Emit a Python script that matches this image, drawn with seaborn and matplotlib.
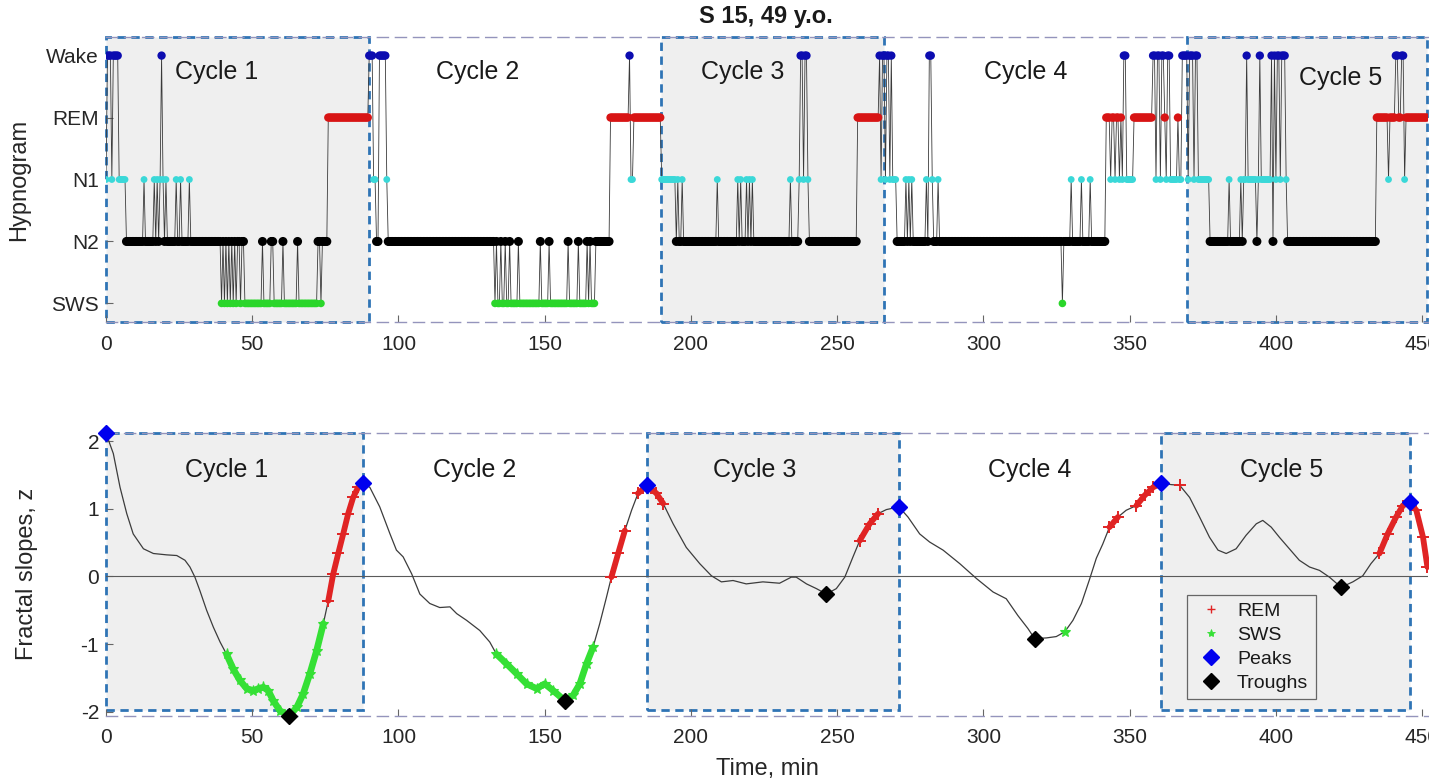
import numpy as np
import pandas as pd
import matplotlib
matplotlib.use("Agg")
import matplotlib.pyplot as plt
import seaborn as sns
from matplotlib.patches import Rectangle
from matplotlib.lines import Line2D

# ---------------- data ----------------
STAGE_LEVEL = {"S": 1, "N2": 2, "N1": 3, "R": 4, "W": 5}
Y_TICK_LABELS = ["SWS", "N2", "N1", "REM", "Wake"]

# hypnogram as runs: start minute of each run and its stage
HYP_START = [0.0, 0.5, 2.0, 2.5, 4.5, 7.0, 13.0, 13.5, 16.5, 17.0, 17.5, 18.0, 18.5, 19.0, 19.5,
             20.0, 20.5, 21.0, 24.0, 24.5, 25.5, 26.0, 28.5, 29.0, 39.5, 40.0, 40.5, 41.0, 41.5,
             42.0, 42.5, 43.0, 43.5, 44.0, 44.5, 45.0, 46.0, 46.5, 47.5, 53.5, 54.0, 56.5, 57.5,
             60.5, 61.0, 65.5, 66.0, 72.5, 73.5, 74.0, 76.0, 90.0, 91.5, 92.5, 93.5, 96.0, 96.5,
             133.0, 133.5, 134.0, 135.0, 135.5, 136.5, 137.0, 138.0, 138.5, 141.0, 141.5, 148.5,
             149.0, 151.5, 152.0, 158.0, 158.5, 161.5, 162.0, 164.5, 165.0, 165.5, 166.0, 167.5,
             172.5, 179.0, 179.5, 180.5, 190.0, 195.0, 195.5, 196.0, 197.0, 197.5, 209.0, 209.5,
             216.0, 216.5, 217.0, 217.5, 219.0, 219.5, 220.0, 220.5, 221.0, 221.5, 234.0, 234.5,
             237.0, 237.5, 238.5, 239.0, 240.0, 240.5, 257.0, 264.5, 265.0, 265.5, 266.5, 267.0,
             268.0, 268.5, 269.0, 270.5, 273.5, 274.0, 274.5, 275.0, 275.5, 276.0, 280.5, 281.0,
             281.5, 282.5, 283.0, 284.5, 285.0, 327.0, 327.5, 330.0, 330.5, 333.5, 334.0, 336.5,
             337.0, 342.0, 343.5, 344.0, 345.0, 345.5, 346.5, 347.0, 347.5, 348.0, 349.0, 351.5,
             358.0, 359.0, 359.5, 360.5, 361.0, 362.0, 362.5, 363.0, 364.0, 366.5, 367.0, 368.0,
             370.0, 370.5, 372.0, 372.5, 373.5, 377.5, 384.0, 384.5, 388.0, 388.5, 389.0, 390.0,
             390.5, 393.5, 394.0, 394.5, 395.0, 398.5, 399.0, 399.5, 400.0, 400.5, 401.5, 402.0,
             403.5, 404.0, 434.5, 438.5, 439.0, 441.0, 442.0, 443.0, 444.0, 444.5]
HYP_STAGE = ["N1", "W", "N1", "W", "N1", "N2", "N1", "N2", "N1", "N2", "N1", "N2", "N1", "W", "N1",
             "N2", "N1", "N2", "N1", "N2", "N1", "N2", "N1", "N2", "S", "N2", "S", "N2", "S",
             "N2", "S", "N2", "S", "N2", "S", "N2", "S", "N2", "S", "N2", "S", "N2", "S",
             "N2", "S", "N2", "S", "N2", "S", "N2", "R", "W", "N1", "N2", "W", "N1", "N2",
             "S", "N2", "S", "N2", "S", "N2", "S", "N2", "S", "N2", "S", "N2",
             "S", "N2", "S", "N2", "S", "N2", "S", "N2", "S", "N2", "S", "N2",
             "R", "W", "N1", "R", "N1", "N2", "N1", "N2", "N1", "N2", "N1", "N2",
             "N1", "N2", "N1", "N2", "N1", "N2", "N1", "N2", "N1", "N2", "N1", "N2",
             "N1", "W", "N1", "W", "N1", "N2", "R", "W", "N1", "W", "N1", "W",
             "N1", "W", "N1", "N2", "N1", "N2", "N1", "N2", "N1", "N2", "N1", "N2",
             "W", "N1", "N2", "N1", "N2", "S", "N2", "N1", "N2", "N1", "N2", "N1",
             "N2", "R", "N1", "R", "N1", "R", "N1", "R", "N1", "W", "N1", "R",
             "W", "N1", "W", "N1", "W", "R", "N1", "W", "N1", "R", "N1", "W",
             "N1", "W", "N1", "W", "N1", "N2", "N1", "N2", "N1", "N2", "N1", "W",
             "N1", "N2", "N1", "W", "N1", "W", "N2", "W", "N1", "W", "N1", "W",
             "N1", "N2", "R", "N1", "R", "W", "R", "W", "N1", "R"]
HYP_END = 452.0
EPOCH_MIN = 0.5

TOP_CYCLE_START = [0.0, 89.9, 189.6, 266.0, 369.6]
TOP_CYCLE_END = [89.9, 189.6, 266.0, 369.6, 451.6]
TOP_LABEL_T = [37.8, 127.0, 217.8, 314.6, 422.0]
TOP_LABEL_Y = [4.74, 4.74, 4.74, 4.74, 4.64]

# fractal slope trace (z)
FS_T = [0, 2.5, 4.8, 7.1, 9.3, 12.8, 16.2, 20.7, 24.2, 27.0, 28.7, 30.4, 32.1, 34.4, 36.7, 39.0,
        41.2, 43.5, 45.8, 48.1, 50.4, 52.1, 53.8, 55.5, 57.2, 59.5, 62.7, 65.2, 67.4, 69.7, 72.0,
        74.3, 76.0, 77.7, 79.4, 81.1, 82.8, 84.5, 86.2, 87.9, 90.2, 93.6, 97.1, 99.3, 101.6,
        104.5, 107.3, 110.7, 114.1, 117.6, 119.9, 123.3, 127.8, 131.2, 133.5, 136.9, 140.4,
        143.8, 147.2, 150.0, 152.9, 156.9, 159.7, 162.0, 164.3, 166.5, 168.8, 171.1, 172.8,
        175.1, 177.4, 179.7, 181.9, 185.0, 188.2, 190.5, 193.9, 198.4, 203.0, 207.0, 210.4,
        214.4, 218.9, 224.6, 230.3, 234.3, 236.0, 239.5, 242.9, 246.3, 249.7, 252.6, 255.4,
        257.7, 261.1, 264.0, 266.8, 271.1, 274.2, 278.2, 281.6, 286.2, 291.9, 297.6, 303.3,
        307.8, 311.8, 315.2, 317.5, 321.5, 324.9, 327.8, 330.6, 333.5, 336.3, 338.6, 340.8,
        343.1, 346.0, 348.8, 352.3, 355.1, 358.0, 360.8, 364.2, 367.1, 370.5, 373.9, 377.3,
        380.2, 383.0, 386.4, 389.8, 393.3, 395.5, 398.4, 401.2, 404.6, 408.0, 411.5, 414.9,
        418.3, 422.3, 426.3, 429.7, 432.5, 435.4, 438.2, 441.1, 443.4, 445.7, 448.0, 450.3,
        451.8]
FS_V = [2.12, 1.82, 1.32, 0.93, 0.63, 0.41, 0.34, 0.32, 0.31, 0.24, 0.14, -0.01, -0.21, -0.50,
        -0.75, -0.97, -1.15, -1.37, -1.54, -1.66, -1.69, -1.66, -1.64, -1.69, -1.84, -1.99, -2.06,
        -1.94, -1.74, -1.44, -1.10, -0.70, -0.36, 0.04, 0.34, 0.63, 0.93, 1.17, 1.32, 1.38, 1.32,
        1.03, 0.63, 0.39, 0.29, 0.04, -0.26, -0.40, -0.46, -0.45, -0.55, -0.65, -0.80, -0.97,
        -1.15, -1.29, -1.44, -1.59, -1.66, -1.59, -1.69, -1.84, -1.76, -1.59, -1.29, -1.05,
        -0.70, -0.31, -0.01, 0.34, 0.68, 0.98, 1.23, 1.35, 1.23, 1.08, 0.78, 0.43, 0.19, 0.01,
        -0.08, -0.06, -0.11, -0.08, -0.10, -0.01, -0.01, -0.11, -0.18, -0.26, -0.18, -0.01, 0.29,
        0.53, 0.78, 0.93, 0.99, 1.03, 0.88, 0.63, 0.51, 0.39, 0.19, -0.03, -0.23, -0.33, -0.58,
        -0.77, -0.92, -0.91, -0.89, -0.82, -0.65, -0.40, -0.04, 0.27, 0.48, 0.73, 0.88, 0.98,
        1.05, 1.20, 1.32, 1.38, 1.36, 1.35, 1.17, 0.88, 0.58, 0.39, 0.34, 0.41, 0.61, 0.78, 0.83,
        0.73, 0.58, 0.41, 0.24, 0.14, 0.09, -0.01, -0.16, -0.08, 0.01, 0.19, 0.34, 0.63, 0.88,
        1.05, 1.10, 0.98, 0.58, 0.14]

PEAK_T = [0.0, 87.9, 185.0, 271.1, 360.8, 445.7]
PEAK_V = [2.12, 1.38, 1.35, 1.03, 1.38, 1.10]
TROUGH_T = [62.7, 156.9, 246.3, 317.5, 422.3]
TROUGH_V = [-2.06, -1.84, -0.26, -0.92, -0.16]

REM_SPAN_START = [76.0, 172.5, 180.5, 257.0, 342.0, 351.0, 366.5, 434.0]
REM_SPAN_END = [88.0, 179.0, 190.6, 266.0, 347.0, 361.0, 367.5, 452.0]
SWS_SPAN_START = [40.0, 132.5, 326.0]
SWS_SPAN_END = [75.5, 168.5, 328.0]

BOT_LABEL_T = [41.2, 126.1, 221.8, 315.8, 402.0]
BOT_LABEL_V = [1.58, 1.58, 1.58, 1.58, 1.58]

X_TICKS = [0, 50, 100, 150, 200, 250, 300, 350, 400, 450]
Y2_TICKS = [-2, -1, 0, 1, 2]

# ---------------- style ----------------
sns.set_theme(style="white")
plt.rcParams["font.family"] = ["Liberation Sans", "DejaVu Sans"]
plt.rcParams["axes.unicode_minus"] = False

TXT = "#262626"
RECT_FACE = "#efefef"
RECT_EDGE = "#2f74b5"
AX_DASH = "#9494bc"
STAGE_COLORS = {"W": "#0c0cb0", "R": "#d81414", "N1": "#3ad8d8", "N2": "#000000", "S": "#2ad62a"}
STAGE_SIZES = {"W": 36, "R": 36, "N1": 24, "N2": 42, "S": 30}

W, H = 1429, 781
fig = plt.figure(figsize=(W / 100, H / 100), dpi=100)
ax1 = fig.add_axes([106 / W, 1 - 322 / H, 1322 / W, 285 / H])
ax2 = fig.add_axes([106 / W, 1 - 715.6 / H, 1322 / W, 283 / H])

# ---------------- top: hypnogram ----------------
t_ep = np.arange(0.0, HYP_END, EPOCH_MIN)
idx = np.searchsorted(np.array(HYP_START), t_ep, side="right") - 1
st_ep = np.array(HYP_STAGE)[idx]
lev_ep = np.array([STAGE_LEVEL[s] for s in st_ep])
df_h = pd.DataFrame({"t": t_ep, "level": lev_ep, "stage": st_ep})

y1lim = (0.7, 5.3)
for i, (a, b) in enumerate(zip(TOP_CYCLE_START, TOP_CYCLE_END)):
    if i % 2 == 0:
        ax1.add_patch(Rectangle((a, y1lim[0]), b - a, y1lim[1] - y1lim[0], facecolor=RECT_FACE,
                                edgecolor=RECT_EDGE, lw=2.0, ls=(0, (3, 2)), zorder=0.5, clip_on=False))
    ax1.text(TOP_LABEL_T[i], TOP_LABEL_Y[i], f"Cycle {i + 1}", ha="center", va="center",
             fontsize=18, color="#1a1a1a", zorder=5)

sns.lineplot(data=df_h, x="t", y="level", estimator=None, sort=False, color="#3a3a3a", lw=0.6,
             ax=ax1, zorder=2)
sns.scatterplot(data=df_h, x="t", y="level", hue="stage", palette=STAGE_COLORS, size="stage",
                sizes=STAGE_SIZES, linewidth=0, legend=False, ax=ax1, zorder=3)

ax1.set_xlim(0, HYP_END)
ax1.set_ylim(*y1lim)
ax1.set_yticks([1, 2, 3, 4, 5])
ax1.set_yticklabels(Y_TICK_LABELS)
ax1.set_xticks(X_TICKS)
ax1.set_xlabel("")
ax1.set_ylabel("Hypnogram", fontsize=17, color=TXT)
ax1.yaxis.set_label_coords(-0.0575, 0.5)

# ---------------- bottom: fractal slopes ----------------
y2lim = (-2.06, 2.13)
ft = np.array(FS_T)
fv = np.array(FS_V)
b_start = [PEAK_T[0], PEAK_T[2], PEAK_T[4]]
b_end = [PEAK_T[1], PEAK_T[3], PEAK_T[5]]
for a, b in zip(b_start, b_end):
    ax2.add_patch(Rectangle((a, -1.98), b - a, 2.13 + 1.98, facecolor=RECT_FACE,
                            edgecolor=RECT_EDGE, lw=2.0, ls=(0, (3, 2)), zorder=0.5, clip_on=False))
for i in range(5):
    ax2.text(BOT_LABEL_T[i], BOT_LABEL_V[i], f"Cycle {i + 1}", ha="center", va="center",
             fontsize=18, color="#1a1a1a", zorder=5)

ax2.axhline(0, color="#5a5a5a", lw=0.8, zorder=1)
sns.lineplot(x=FS_T, y=FS_V, estimator=None, sort=False, color="#3c3c3c", lw=0.9, ax=ax2, zorder=2)

RED = "#e02424"
GREEN = "#35e035"
for a, b in zip(REM_SPAN_START, REM_SPAN_END):
    m = (ft >= a) & (ft <= b)
    ax2.plot(ft[m], fv[m], color=RED, lw=4.2, solid_capstyle="round", zorder=3, clip_on=False)
    ax2.plot(ft[m], fv[m], ls="none", marker="+", ms=8, mew=1.4, color=RED, zorder=3, clip_on=False)
for a, b in zip(SWS_SPAN_START, SWS_SPAN_END):
    m = (ft >= a) & (ft <= b)
    ax2.plot(ft[m], fv[m], color=GREEN, lw=4.8, solid_capstyle="round", zorder=3)
    ax2.plot(ft[m], fv[m], ls="none", marker="*", ms=8, mew=0.8, color=GREEN, zorder=3)

ax2.plot(PEAK_T, PEAK_V, ls="none", marker="D", ms=8, color="#0000ee", mec="#0000ee", zorder=6,
         clip_on=False)
ax2.plot(TROUGH_T, TROUGH_V, ls="none", marker="D", ms=8, color="black", zorder=6, clip_on=False)

ax2.set_xlim(0, HYP_END)
ax2.set_ylim(*y2lim)
ax2.set_yticks(Y2_TICKS)
ax2.set_xticks(X_TICKS)
ax2.set_xlabel("Time, min", fontsize=17, color=TXT)
ax2.xaxis.set_label_coords(0.5, -0.187)
ax2.xaxis.label.set_va("center")
ax2.set_ylabel("Fractal slopes, z", fontsize=17, color=TXT)
ax2.yaxis.set_label_coords(-0.0514, 0.5)

handles = [
    Line2D([], [], ls="none", marker="+", ms=6, mew=1.0, color=RED),
    Line2D([], [], ls="none", marker="*", ms=6, mew=0.6, color=GREEN),
    Line2D([], [], ls="none", marker="D", ms=8, color="#0000ee"),
    Line2D([], [], ls="none", marker="D", ms=8, color="black"),
]
leg = ax2.legend(handles, ["REM", "SWS", "Peaks", "Troughs"], loc="lower left",
                 bbox_to_anchor=(0.818, 0.057), borderaxespad=0, fontsize=14, frameon=True,
                 fancybox=False, labelspacing=0.32, handlelength=1.6, handletextpad=0.55,
                 borderpad=0.4)
leg.get_frame().set_facecolor("none")
leg.get_frame().set_edgecolor("#444444")
leg.get_frame().set_linewidth(0.9)
for t in leg.get_texts():
    t.set_color("#1a1a1a")

# ---------------- axes cosmetics ----------------
for ax in (ax1, ax2):
    ax.set_facecolor("white")
    ax.spines["left"].set_visible(False)
    ax.spines["right"].set_visible(False)
    for s in ("top", "bottom"):
        ax.spines[s].set_linestyle((0, (8, 5)))
        ax.spines[s].set_color(AX_DASH)
        ax.spines[s].set_linewidth(1.0)
    ax.tick_params(axis="both", direction="in", length=5, width=0.8, color="#666666",
                   labelsize=15, labelcolor=TXT)
    ax.tick_params(axis="x", pad=9, bottom=True)
    ax.tick_params(axis="y", pad=5, left=True)

fig.text(766 / W, 1 - 17 / H, "S 15, 49 y.o.", ha="center", va="center", fontsize=17,
         fontweight="bold", color="#1a1a1a")

fig.savefig("out.png", dpi=100)
